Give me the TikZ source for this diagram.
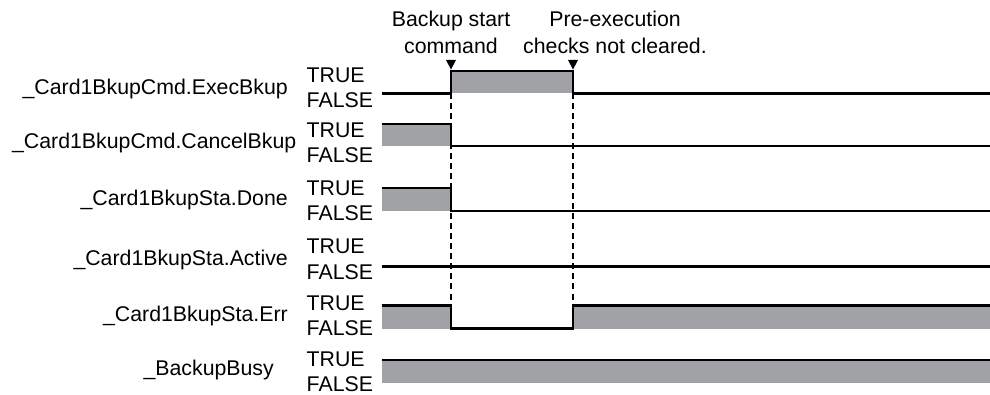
\documentclass[tikz,border=0pt]{standalone}
\usepackage{fontspec}
\setmainfont{Liberation Sans}
\usetikzlibrary{positioning}
\definecolor{sigfill}{RGB}{161,162,166}
\definecolor{sigdark}{RGB}{0,0,0}
\tikzset{
  signame/.style={anchor=base east, inner sep=0pt, color=sigdark},
  levlabel/.style={anchor=base west, inner sep=0pt, color=sigdark},
  note/.style={anchor=base, inner sep=0pt, color=sigdark},
  wave/.style={line width=2.3pt, color=sigdark, line join=miter},
  hifill/.style={fill=sigfill, draw=none},
  marker/.style={dash pattern=on 6pt off 4pt, line width=1.3pt, color=sigdark},
  tick/.style={fill=sigdark}
}

\begin{document}
\begin{tikzpicture}[x=1pt, y=-1pt, font=\fontsize{21.3}{25}\selectfont]
  \useasboundingbox (0,0) rectangle (990,395);
  % Event notes
  \node[note] (startA) at (451,26.7) {Backup start};
  \node[note] (startB) at (451,53.3) {command};
  \node[note] (checkA) at (615,26.7) {Pre-execution};
  \node[note] (checkB) at (615,53.3) {checks not cleared.};
  \fill[tick] (446,60) -- (456,60) -- (451,69.5) -- cycle;
  \fill[tick] (568,60) -- (578,60) -- (573,69.5) -- cycle;
  % Signal names
  \node[signame] (exec) at (288,94.3) {\_Card1BkupCmd.ExecBkup};
  \node[signame] (cancel) at (296.5,148.3) {\_Card1BkupCmd.CancelBkup};
  \node[signame] (done) at (288,205.7) {\_Card1BkupSta.Done};
  \node[signame] (active) at (288,265.7) {\_Card1BkupSta.Active};
  \node[signame] (err) at (288,321.7) {\_Card1BkupSta.Err};
  \node[signame] (busy) at (274,375) {\_BackupBusy};
  % TRUE / FALSE levels
  \node[levlabel] (execT) at (306.5,82.3) {TRUE};
  \node[levlabel] (execF) at (306.5,107.3) {FALSE};
  \node[levlabel] (cancelT) at (306.5,137.7) {TRUE};
  \node[levlabel] (cancelF) at (306.5,162.7) {FALSE};
  \node[levlabel] (doneT) at (306.5,196) {TRUE};
  \node[levlabel] (doneF) at (306.5,221) {FALSE};
  \node[levlabel] (activeT) at (306.5,254) {TRUE};
  \node[levlabel] (activeF) at (306.5,279.5) {FALSE};
  \node[levlabel] (errT) at (306.5,310) {TRUE};
  \node[levlabel] (errF) at (306.5,335.5) {FALSE};
  \node[levlabel] (busyT) at (306.5,366.7) {TRUE};
  \node[levlabel] (busyF) at (306.5,391.7) {FALSE};
  % Gray TRUE areas
  \fill[hifill] (451,71) rectangle (573,93.5);
  \fill[hifill] (381.5,124) rectangle (451,146);
  \fill[hifill] (381.5,188) rectangle (451,210.7);
  \fill[hifill] (381.5,305.5) rectangle (451,328.5);
  \fill[hifill] (573,305.5) rectangle (990,328.5);
  \fill[hifill] (381.5,360) rectangle (990,382.5);
  % Event markers
  \draw[marker] (451,93.5) -- (451,305.5);
  \draw[marker] (573,93.5) -- (573,305.5);
  % Waveforms
  \draw[wave] (381.5,93.5) -- (451,93.5) -- (451,71) -- (573,71) -- (573,93.5) -- (990,93.5);
  \draw[wave] (381.5,124) -- (451,124) -- (451,146) -- (990,146);
  \draw[wave] (381.5,188) -- (451,188) -- (451,210.7) -- (990,210.7);
  \draw[wave] (381.5,266.5) -- (990,266.5);
  \draw[wave] (381.5,305.5) -- (451,305.5) -- (451,328.5) -- (573,328.5) -- (573,305.5) -- (990,305.5);
  \draw[wave] (381.5,360) -- (990,360);
\end{tikzpicture}
\end{document}
